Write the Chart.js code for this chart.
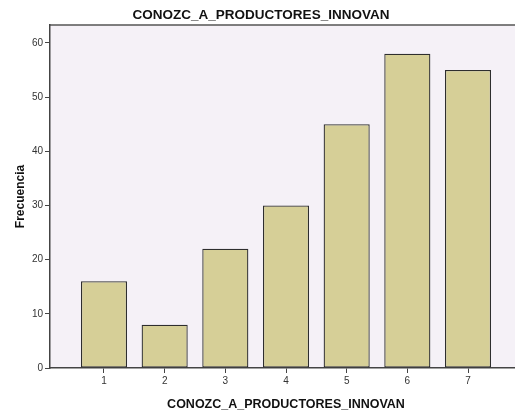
<!DOCTYPE html>
<html>
<head>
<meta charset="utf-8">
<script src="https://cdn.jsdelivr.net/npm/chart.js@4"></script>
<style>
  html, body { margin: 0; padding: 0; background: #fff; overflow: hidden; }
  #wrap { width: 530px; height: 412px; position: relative; }
</style>
</head>
<body>
<div id="wrap"><canvas id="barChart"></canvas></div>
<script>
const categorias = [1, 2, 3, 4, 5, 6, 7];
const frecuencias = [16, 8, 22, 30, 45, 58, 55];
const yTicks = [0, 10, 20, 30, 40, 50, 60];
const tituloVar = 'CONOZC_A_PRODUCTORES_INNOVAN';

// fondo lila y borde superior del area de grafico
const fondoPlot = {
    id: 'fondoPlot',
    beforeDraw(chart) {
        const a = chart.chartArea;
        const ctx = chart.ctx;
        ctx.save();
        ctx.fillStyle = '#f5f1f7';
        ctx.fillRect(a.left, a.top, a.right - a.left, a.bottom - a.top);
        ctx.strokeStyle = '#555';
        ctx.lineWidth = 1.5;
        ctx.beginPath();
        ctx.moveTo(a.left, a.top);
        ctx.lineTo(a.right, a.top);
        ctx.lineTo(a.right, a.bottom);
        ctx.stroke();
        ctx.restore();
    }
};

const ctx = document.getElementById('barChart').getContext('2d');
new Chart(ctx, {
    type: 'bar',
    data: {
        datasets: [{
            label: 'Frecuencia',
            data: categorias.map((c, i) => ({ x: c, y: frecuencias[i] })),
            backgroundColor: '#d6cf97',
            borderColor: '#2e2e2e',
            borderWidth: 1.3,
            borderSkipped: false,
            barPercentage: 0.76,
            categoryPercentage: 1
        }]
    },
    options: {
        responsive: true,
        maintainAspectRatio: false,
        animation: false,
        layout: { padding: { left: 0, right: 8, top: 0, bottom: 0 } },
        plugins: {
            legend: { display: false },
            tooltip: { enabled: false },
            title: {
                display: true,
                text: tituloVar,
                color: '#111',
                font: { family: 'Arial, "Liberation Sans"', size: 13.5, weight: 'bold' },
                padding: { top: 7.5, bottom: 1.3 }
            }
        },
        scales: {
            x: {
                type: 'linear',
                offset: false,
                min: 0.11,
                max: 7.89,
                afterBuildTicks: s => { s.ticks = categorias.map(v => ({ value: v })); },
                afterFit: s => { s.height = 44; },
                ticks: {
                    color: '#333',
                    font: { family: 'Arial, "Liberation Sans"', size: 10 },
                    padding: 2
                },
                grid: { offset: false, drawOnChartArea: false, tickLength: 5, color: '#444', lineWidth: 1 },
                border: { color: '#444', width: 1.5 },
                title: {
                    display: true,
                    text: tituloVar,
                    color: '#111',
                    font: { family: 'Arial, "Liberation Sans"', size: 12.5, weight: 'bold' },
                    padding: { top: 5, bottom: 0 }
                }
            },
            y: {
                min: 0,
                max: 63.3,
                afterBuildTicks: s => { s.ticks = yTicks.map(v => ({ value: v })); },
                afterFit: s => { s.width = 50; },
                ticks: {
                    color: '#333',
                    font: { family: 'Arial, "Liberation Sans"', size: 10 },
                    padding: 2
                },
                grid: { drawOnChartArea: false, tickLength: 5, color: '#444', lineWidth: 1 },
                border: { color: '#444', width: 1.5 },
                title: {
                    display: true,
                    text: 'Frecuencia',
                    color: '#111',
                    font: { family: 'Arial, "Liberation Sans"', size: 12, weight: 'bold' },
                    padding: { top: 13, bottom: 4 }
                }
            }
        }
    },
    plugins: [fondoPlot]
});
</script>
</body>
</html>
